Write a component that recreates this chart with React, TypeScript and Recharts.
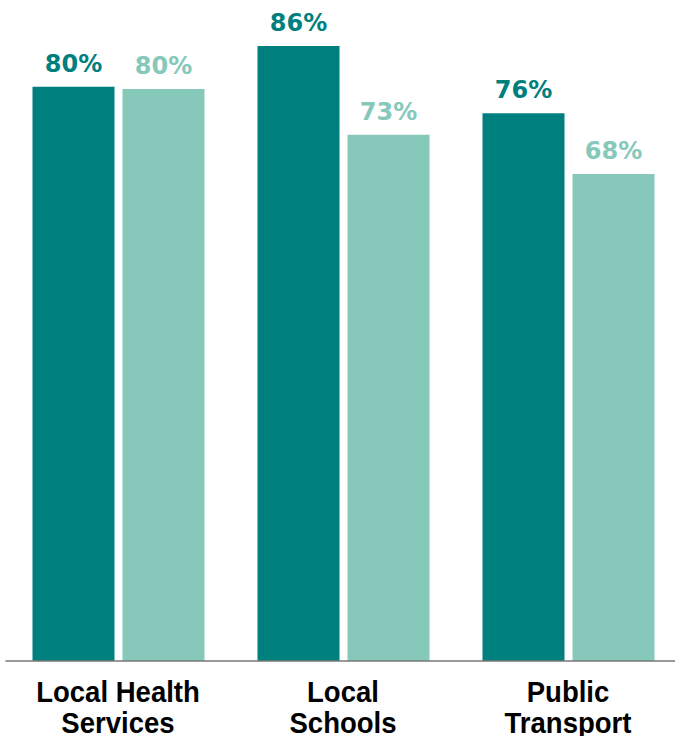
import React from 'react';
import { BarChart, Bar, XAxis, YAxis, LabelList } from 'recharts';

const categories = ['Local Health\nServices', 'Local\nSchools', 'Public\nTransport'];
const firstValues = [80.3, 86, 76.6];
const secondValues = [80, 73.6, 68.1];
const firstLabels = ['80%', '86%', '76%'];
const secondLabels = ['80%', '73%', '68%'];

const DARK = '#007f7f';
const LIGHT = '#86c8ba';

const data = categories.map((name, i) => ({
  name,
  first: firstValues[i],
  second: secondValues[i],
  firstLabel: firstLabels[i],
  secondLabel: secondLabels[i],
}));

// two-line category label, font squeezed a little to look like the original's
const CategoryTick = ({ x, y, payload }: any) => {
  const lines = String(payload.value).split('\n');
  return (
    <g transform={`translate(${x},${y}) scale(0.95,1)`}>
      <text
        x={0}
        y={0}
        textAnchor="middle"
        fill="#000"
        fontFamily="'Liberation Sans', Arial, sans-serif"
        fontWeight="bold"
        fontSize={29}
      >
        {lines.map((line, i) => (
          <tspan key={i} x={0} dy={i === 0 ? 33 : 31}>
            {line}
          </tspan>
        ))}
      </text>
    </g>
  );
};

const App = () => {
  return (
    <div style={{ position: 'absolute', left: 0, top: 0, width: 675, height: 736, overflow: 'hidden', background: '#fff' }}>
      <BarChart
        width={686}
        height={736}
        data={data}
        margin={{ top: 46, right: 5.5, left: 5.5, bottom: 0 }}
        barGap={8}
      >
        <XAxis
          dataKey="name"
          height={75}
          interval={0}
          tickLine={false}
          axisLine={{ stroke: '#777', strokeWidth: 1.5 }}
          tick={<CategoryTick />}
        />
        <YAxis hide domain={[0, 86]} />
        <Bar dataKey="first" fill={DARK} barSize={82} isAnimationActive={false}>
          <LabelList
            dataKey="firstLabel"
            position="top"
            offset={15}
            fill={DARK}
            fontFamily="'DejaVu Sans', sans-serif"
            fontWeight="bold"
            fontSize={24}
          />
        </Bar>
        <Bar dataKey="second" fill={LIGHT} barSize={82} isAnimationActive={false}>
          <LabelList
            dataKey="secondLabel"
            position="top"
            offset={15}
            fill={LIGHT}
            fontFamily="'DejaVu Sans', sans-serif"
            fontWeight="bold"
            fontSize={24}
          />
        </Bar>
      </BarChart>
    </div>
  );
};

export default App;
